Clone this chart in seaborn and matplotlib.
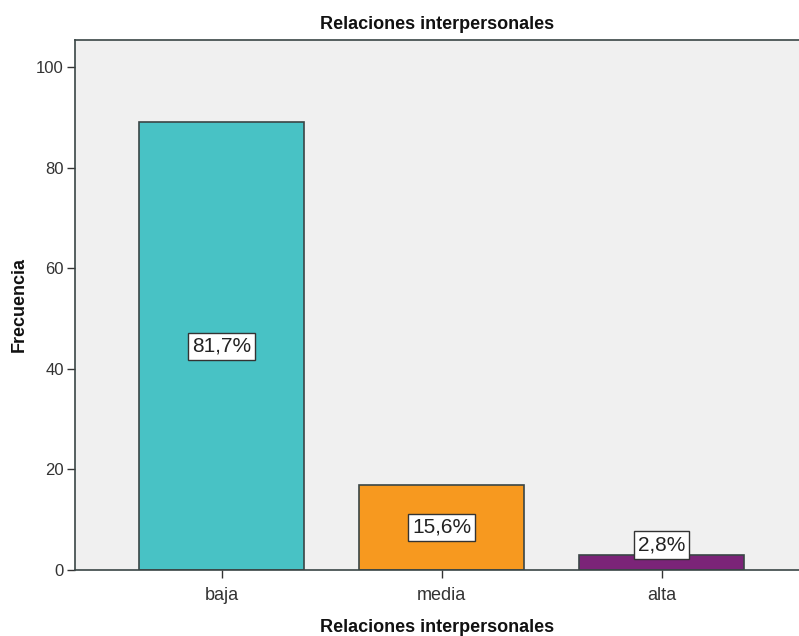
import matplotlib
matplotlib.use("Agg")
import matplotlib.pyplot as plt
import seaborn as sns
import pandas as pd

categories = ["baja", "media", "alta"]
counts = [89, 17, 3]
pct_labels = ["81,7%", "15,6%", "2,8%"]
colors = ["#48C2C5", "#F7991F", "#7B2478"]

sns.set_theme(style="white")
plt.rcParams['font.family'] = ['Liberation Sans', 'DejaVu Sans']

df = pd.DataFrame({"cat": categories, "n": counts})

fig = plt.figure(figsize=(7.99, 6.36), dpi=100)
ax = fig.add_axes([75/799, 66/636, 1 - 75/799, 530/636])
ax.set_facecolor("#F0F0F0")

sns.barplot(data=df, x="cat", y="n", hue="cat", palette=colors, legend=False,
            width=0.75, edgecolor="#3A4646", linewidth=1.2, ax=ax, saturation=1)

for i, (v, lab) in enumerate(zip(counts, pct_labels)):
    ax.text(i, max(v / 2, 5), lab, ha="center", va="center", fontsize=15, color="#222222",
            bbox=dict(boxstyle="square,pad=0.2", fc="white", ec="#333333", lw=1))

ax.set_xlim(-0.666, 2.625)
ax.set_ylim(0, 105.4)
ax.set_yticks([0, 20, 40, 60, 80, 100])
ax.tick_params(axis="both", which="both", length=6, width=1, color="#333333",
               labelsize=12, labelcolor="#333333", pad=2, left=True, bottom=True)
ax.tick_params(axis="x", labelsize=13, pad=6)

for s in ["left", "bottom", "top"]:
    ax.spines[s].set_visible(True)
    ax.spines[s].set_color("#3A4646")
    ax.spines[s].set_linewidth(1.2)
ax.spines["right"].set_visible(False)

ax.set_xlabel("Relaciones interpersonales", fontsize=13, fontweight="bold", color="#111111", labelpad=11)
ax.set_ylabel("Frecuencia", fontsize=13, fontweight="bold", color="#111111", labelpad=6)
ax.set_title("Relaciones interpersonales", fontsize=13, fontweight="bold", color="#111111", pad=8)

fig.savefig("out.png", dpi=100)
